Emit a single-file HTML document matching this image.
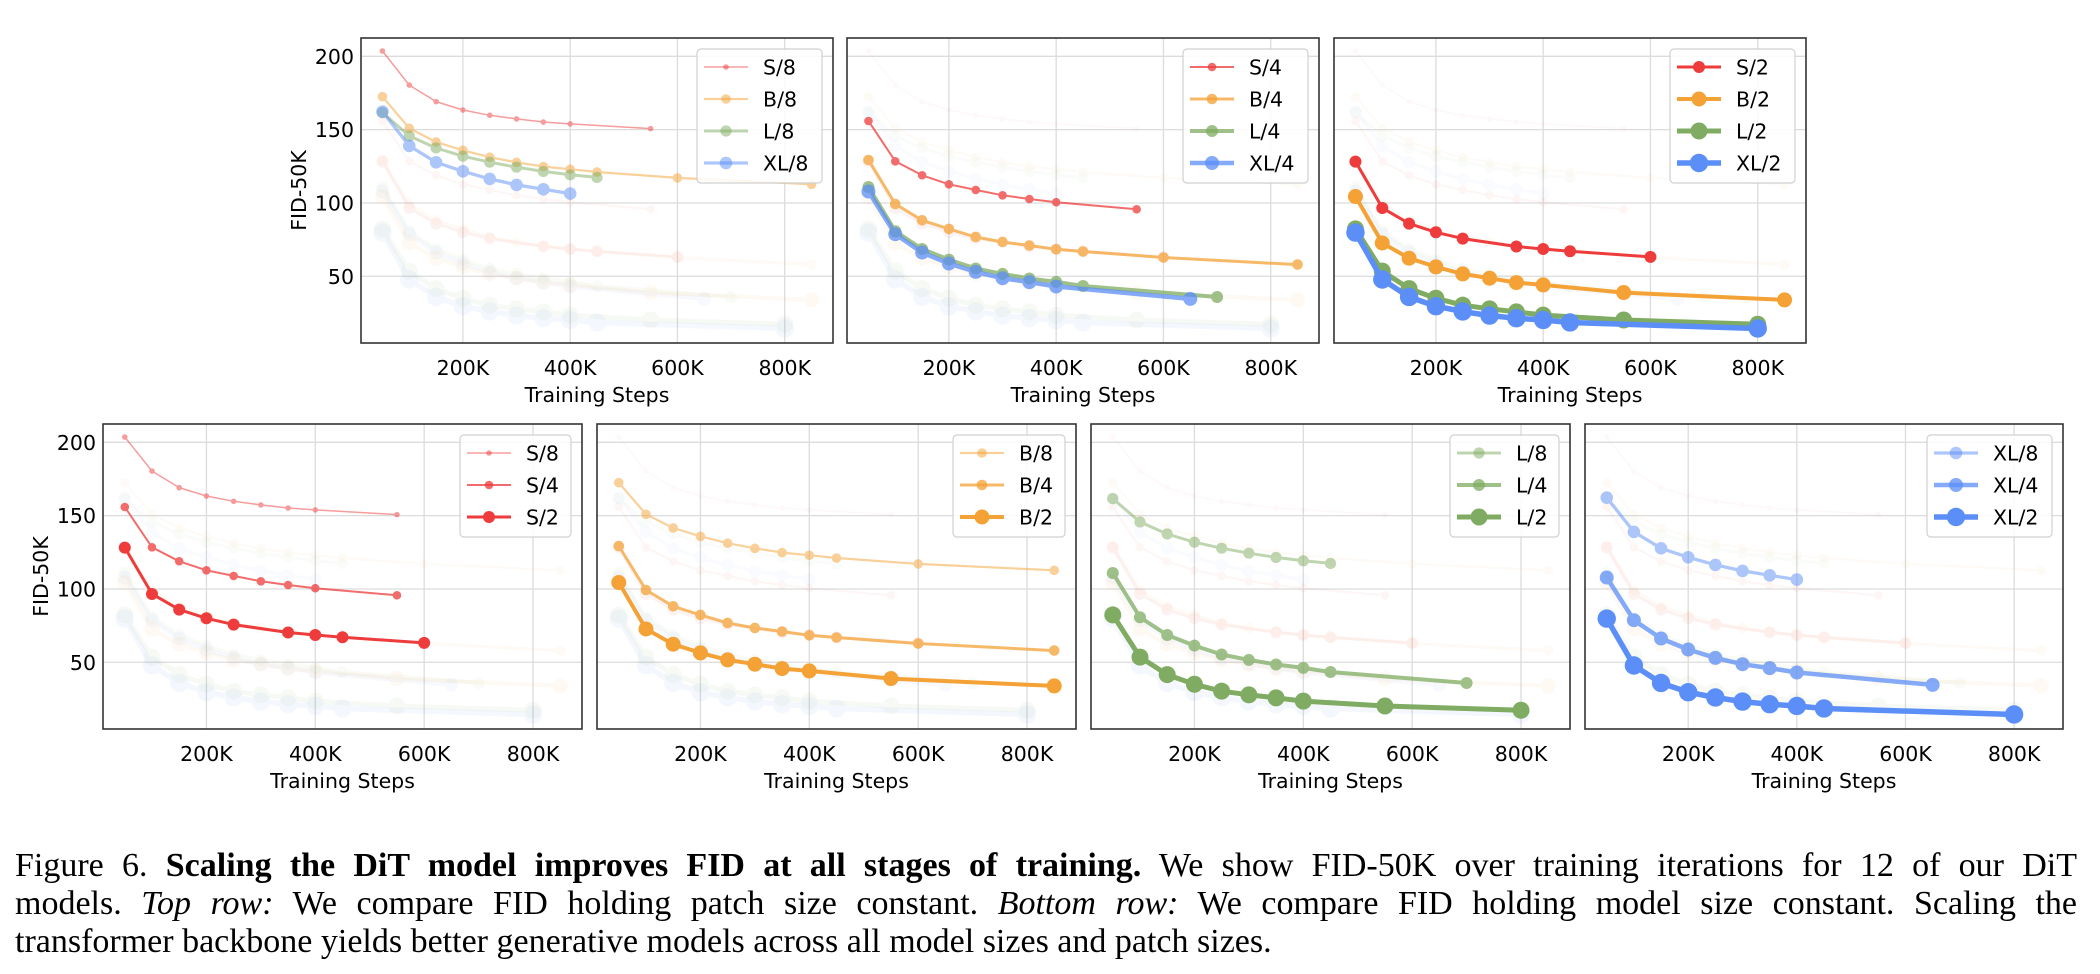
<!DOCTYPE html>
<html><head><meta charset="utf-8">
<style>
html,body{margin:0;padding:0;background:#fff;}
body{width:2100px;height:974px;position:relative;overflow:hidden;}
svg{position:absolute;left:0;top:0;}
.cap{position:absolute;left:15px;width:2062px;font-family:"Liberation Serif",serif;font-size:34px;line-height:38px;color:#000;white-space:nowrap;}
.just{text-align:justify;text-align-last:justify;white-space:normal;}
</style></head>
<body>
<svg id="fig" width="2100" height="800" xmlns="http://www.w3.org/2000/svg"></svg>
<div class="cap just" style="top:847px">Figure 6. <b>Scaling the DiT model improves FID at all stages of training.</b> We show FID-50K over training iterations for 12 of our DiT</div>
<div class="cap just" style="top:885px">models. <i>Top row:</i> We compare FID holding patch size constant. <i>Bottom row:</i> We compare FID holding model size constant. Scaling the</div>
<div class="cap" style="top:923px">transformer backbone yields better generative models across all model sizes and patch sizes.</div>
<script>
// ---- data (x in K steps, y = FID-50K) ----
const xS8=[50,100,150,200,250,300,350,400,550];
const yS8=[203.6,180.4,169.1,163.4,159.8,157.3,155.2,153.9,150.7];
const xB8=[50,100,150,200,250,300,350,400,450,600,850];
const yB8=[172.5,150.9,141.6,135.9,131.2,127.7,124.8,123,121.1,117.1,112.7];
const xL8=[50,100,150,200,250,300,350,400,450];
const yL8=[161.6,145.7,137.5,131.9,127.8,124.4,121.5,119.2,117.4];
const xXL8=[50,100,150,200,250,300,350,400];
const yXL8=[162.3,138.9,127.7,121.6,116.4,112.3,109.3,106.4];
const xS4=[50,100,150,200,250,300,350,400,550];
const yS4=[155.9,128.4,118.9,112.7,108.9,105.2,102.7,100.5,95.7];
const xB4=[50,100,150,200,250,300,350,400,450,600,850];
const yB4=[129.3,99.3,88.2,82.3,76.8,73.4,71,68.4,66.9,62.8,58];
const xL4=[50,100,150,200,250,300,350,400,450,700];
const yL4=[110.9,80.7,68.6,61.4,55.3,51.6,48.5,46.2,43.4,35.9];
const xXL4=[50,100,150,200,250,300,350,400,650];
const yXL4=[107.8,78.7,66.2,58.7,53,48.7,46,43,34.6];
const xS2=[50,100,150,200,250,350,400,450,600];
const yS2=[128.2,96.6,85.9,80,75.7,70.3,68.6,67.1,63.2];
const xB2=[50,100,150,200,250,300,350,400,550,850];
const yB2=[104.4,72.7,62.3,56.4,51.6,48.7,45.7,44.1,38.9,33.9];
const xL2=[50,100,150,200,250,300,350,400,550,800];
const yL2=[82.3,53.5,41.6,35,30.3,27.8,25.7,23.5,20.2,17.3];
const xXL2=[50,100,150,200,250,300,350,400,450,800];
const yXL2=[79.8,47.8,35.9,29.6,26,23.2,21.4,20.2,18.5,14.4];
const xTicks=[200,400,600,800];
const xTickLabels=["200K","400K","600K","800K"];
const yTicks=[50,100,150,200];
const yTickLabels=["50","100","150","200"];

const NS="http://www.w3.org/2000/svg";
const svg=document.getElementById('fig');
const baseColor={S:"#ee3b3b",B:"#f4a236",L:"#7fac62",XL:"#5b8ef7"};
const patchAlpha={"8":0.5,"4":0.75,"2":1};
const radius={S8:2.8,B8:4.8,L8:5.6,XL8:6.3,S4:4.3,B4:5.3,L4:6,XL4:7,S2:6,B2:7.5,L2:8.5,XL2:9.2};
const lw={S8:1.5,B8:2.2,L8:3,XL8:3.3,S4:2,B4:3,L4:4,XL4:4.5,S2:3,B2:4,L2:5,XL2:5.5};
const series={
 S8:[xS8,yS8],B8:[xB8,yB8],L8:[xL8,yL8],XL8:[xXL8,yXL8],
 S4:[xS4,yS4],B4:[xB4,yB4],L4:[xL4,yL4],XL4:[xXL4,yXL4],
 S2:[xS2,yS2],B2:[xB2,yB2],L2:[xL2,yL2],XL2:[xXL2,yXL2]};
const allKeys=Object.keys(series);
const XMIN=10,XMAX=890,YMIN=4.5,YMAX=212.5;

function el(tag,attrs,parent){const e=document.createElementNS(NS,tag);for(const k in attrs)e.setAttribute(k,attrs[k]);(parent||svg).appendChild(e);return e;}
function modelOf(k){return k.replace(/[0-9]/g,'');}
function patchOf(k){return k.replace(/[A-Z]/g,'');}
function label(k){return modelOf(k)+'/'+patchOf(k);}

const panels=[
 {x:361,y:38,w:472,h:305,keys:["S8","B8","L8","XL8"],ylab:true,lw:125,name:"panel-patch-8"},
 {x:847,y:38,w:472,h:305,keys:["S4","B4","L4","XL4"],ylab:false,lw:125,name:"panel-patch-4"},
 {x:1334,y:38,w:472,h:305,keys:["S2","B2","L2","XL2"],ylab:false,lw:125,name:"panel-patch-2"},
 {x:103,y:424,w:479,h:305,keys:["S8","S4","S2"],ylab:true,lw:111,name:"panel-model-S"},
 {x:597,y:424,w:479,h:305,keys:["B8","B4","B2"],ylab:false,lw:112,name:"panel-model-B"},
 {x:1091,y:424,w:479,h:305,keys:["L8","L4","L2"],ylab:false,lw:109,name:"panel-model-L"},
 {x:1585,y:424,w:478,h:305,keys:["XL8","XL4","XL2"],ylab:false,lw:125,name:"panel-model-XL"}];

panels.forEach(p=>{
 const g=el('g',{});
 
 
 const sx=v=>p.x+(v-XMIN)/(XMAX-XMIN)*p.w;
 const sy=v=>p.y+p.h-(v-YMIN)/(YMAX-YMIN)*p.h;
 xTicks.forEach((t,i)=>{
  const gl=el('line',{x1:sx(t),x2:sx(t),y1:p.y,y2:p.y+p.h,stroke:"#dcdcdc","stroke-width":1.3},g);
  
  
  const tl=el('text',{x:sx(t),y:p.y+p.h+32,"text-anchor":"middle","font-family":"DejaVu Sans, Liberation Sans, sans-serif","font-size":20.5,fill:"#000"},g);
  tl.textContent=xTickLabels[i];
  
  
 });
 yTicks.forEach((t,i)=>{
  const gl=el('line',{x1:p.x,x2:p.x+p.w,y1:sy(t),y2:sy(t),stroke:"#dcdcdc","stroke-width":1.3},g);
  
  
  if(p.ylab){
   const tl=el('text',{x:p.x-7,y:sy(t)+7.5,"text-anchor":"end","font-family":"DejaVu Sans, Liberation Sans, sans-serif","font-size":20.5,fill:"#000"},g);
   tl.textContent=yTickLabels[i];
   
   
  }
 });
 allKeys.filter(k=>!p.keys.includes(k)).forEach(k=>drawSeries(g,k,sx,sy,0.06));
 p.keys.forEach(k=>drawSeries(g,k,sx,sy,1));
 const fr=el('rect',{x:p.x,y:p.y,width:p.w,height:p.h,fill:"none",stroke:"#333","stroke-width":1.6},g);
 
 
 const xt=el('text',{x:p.x+p.w/2,y:p.y+p.h+59,"text-anchor":"middle","font-family":"DejaVu Sans, Liberation Sans, sans-serif","font-size":20.5,fill:"#000"},g);
 xt.textContent="Training Steps";
 
 
 if(p.ylab){
  const cx=p.x-55, cy=p.y+p.h/2;
  const yt=el('text',{x:cx,y:cy,"text-anchor":"middle","font-family":"DejaVu Sans, Liberation Sans, sans-serif","font-size":20.5,fill:"#000",transform:`rotate(-90 ${cx} ${cy})`},g);
  yt.textContent="FID-50K";
  
  
 }
 const n=p.keys.length;
 const lx=p.x+p.w-11-p.lw, ly=p.y+11;
 const lg=el('g',{},g);
 
 
 el('rect',{x:lx,y:ly,width:p.lw,height:n*32+6,rx:4,fill:"#fff","fill-opacity":0.85,stroke:"#d0d0d0","stroke-width":1.2},lg);
 p.keys.forEach((k,i)=>{
  const ey=ly+18+i*32;
  const e=el('g',{},lg);
  
  
  const c=baseColor[modelOf(k)],a=patchAlpha[patchOf(k)];
  el('line',{x1:lx+7,x2:lx+51,y1:ey,y2:ey,stroke:c,"stroke-opacity":a,"stroke-width":lw[k]},e);
  el('circle',{cx:lx+29,cy:ey,r:radius[k],fill:c,"fill-opacity":a},e);
  const t=el('text',{x:lx+66,y:ey+7.5,"font-family":"DejaVu Sans, Liberation Sans, sans-serif","font-size":20.5,fill:"#000"},e);
  t.textContent=label(k);
 });
});

function drawSeries(g,k,sx,sy,fade){
 const [xs,ys]=series[k];
 const c=baseColor[modelOf(k)];
 const a=patchAlpha[patchOf(k)]*fade;
 const sg=el('g',{opacity:a},g);
 
 
 const pts=xs.map((x,i)=>sx(x).toFixed(1)+','+sy(ys[i]).toFixed(1)).join(' ');
 const pl=el('polyline',{points:pts,fill:"none",stroke:c,"stroke-width":lw[k],"stroke-linejoin":"round"},sg);
 
 
 xs.forEach((x,i)=>{
  const m=el('circle',{cx:sx(x),cy:sy(ys[i]),r:radius[k],fill:c},sg);
  
  
 });
}
</script>
</body></html>
